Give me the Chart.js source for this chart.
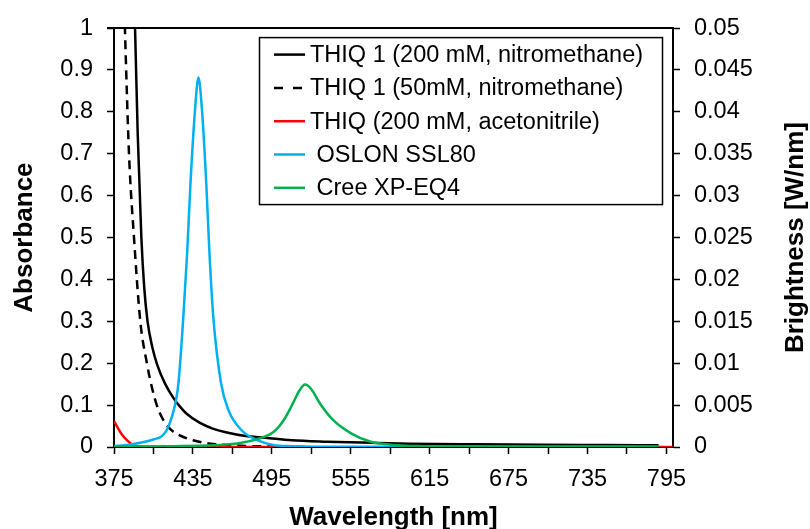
<!DOCTYPE html>
<html>
<head>
<meta charset="utf-8">
<script src="https://cdn.jsdelivr.net/npm/chart.js@4/dist/chart.umd.min.js"></script>
<style>
  html, body { margin: 0; padding: 0; background: #fff; }
  #wrap { width: 810px; height: 529px; }
</style>
</head>
<body>
<div id="wrap"><canvas id="c" width="810" height="529"></canvas></div>
<script>
// Absorbance spectra (left axis)
const thiq200Wl  = [389.5, 391, 393, 395.8, 398, 400.5, 404, 408, 414, 420, 425, 430, 440, 450, 460, 475, 490, 510, 537, 570, 600, 650, 700, 750, 789];
const thiq200Abs = [1.15, 1.0, 0.75, 0.5, 0.38, 0.3, 0.24, 0.195, 0.15, 0.118, 0.097, 0.08, 0.058, 0.044, 0.035, 0.026, 0.022, 0.016, 0.0126, 0.01, 0.008, 0.0065, 0.0055, 0.0048, 0.0042];

const thiq50Wl  = [382, 383.3, 386.4, 390.2, 395, 400, 404, 407.5, 410, 413, 418, 425, 435, 448, 460, 480, 500, 520];
const thiq50Abs = [1.15, 1.0, 0.7, 0.5, 0.3, 0.2, 0.14, 0.1, 0.08, 0.062, 0.042, 0.028, 0.016, 0.008, 0.005, 0.002, 0.001, 0];

const thiqMeCNWl  = [375, 378, 381, 385, 389, 395, 400, 500, 600, 700, 800];
const thiqMeCNAbs = [0.062, 0.045, 0.03, 0.016, 0.006, 0.001, 0, 0, 0, 0, 0];

// LED emission spectra (right axis, W/nm)
const oslonWl = [375, 385, 395, 405, 411, 415, 419, 422, 424, 427.7, 430.7, 433, 436.5, 439.2, 442, 445.3, 447.5, 450.5, 456.4, 462, 472, 483.5, 496, 510, 550, 650, 785];
const oslonBr = [0.0001, 0.00025, 0.0005, 0.0009, 0.00125, 0.002, 0.0036, 0.0055, 0.0076, 0.0155, 0.0234, 0.031, 0.04, 0.0441, 0.04, 0.031, 0.0234, 0.0155, 0.0076, 0.0044, 0.002, 0.00085, 0.00025, 0.0001, 0, 0, 0];

const creeWl = [375, 420, 450, 470, 486, 496, 504, 511, 516, 520.3, 525, 531.6, 541.7, 555.6, 569.6, 587, 610, 650, 789];
const creeBr = [0.00005, 0.0001, 0.0002, 0.00045, 0.00105, 0.00175, 0.0032, 0.0052, 0.00675, 0.00745, 0.0069, 0.0052, 0.0032, 0.0016, 0.00065, 0.00025, 0.0001, 0.00005, 0.00005];

const seriesLabels = [
  'THIQ 1 (200 mM, nitromethane)',
  'THIQ 1 (50mM, nitromethane)',
  'THIQ (200 mM, acetonitrile)',
  ' OSLON SSL80',
  ' Cree XP-EQ4'
];

const xMajorTicks = [375, 435, 495, 555, 615, 675, 735, 795];

const pts = (xs, ys) => xs.map((x, i) => ({ x: x, y: ys[i] }));

const FONT = 'Liberation Sans, Arial, sans-serif';
const TICK_FONT = { family: FONT, size: 23.5 };
const TITLE_FONT = { family: FONT, size: 26, weight: 'bold', lineHeight: 0.85 };

const lineBase = {
  pointRadius: 0,
  borderWidth: 2.5,
  fill: false,
  cubicInterpolationMode: 'monotone'
};

// Boxed legend inside the plot, plus the top frame and right-hand title
const decorations = {
  id: 'decorations',
  afterDraw(chart) {
    const { ctx, chartArea } = chart;
    ctx.save();
    // top frame line
    ctx.strokeStyle = '#000';
    ctx.lineWidth = 2;
    ctx.beginPath();
    ctx.moveTo(chartArea.left - 7, chartArea.top);
    ctx.lineTo(chartArea.right, chartArea.top);
    ctx.stroke();

    // right axis title, reading bottom to top
    ctx.fillStyle = '#000';
    ctx.font = 'bold 26px ' + FONT;
    ctx.textAlign = 'center';
    ctx.textBaseline = 'middle';
    ctx.translate(796, (chartArea.top + chartArea.bottom) / 2);
    ctx.rotate(-Math.PI / 2);
    ctx.fillText('Brightness [W/nm]', 0, 0);
    ctx.restore();

    // legend
    const bx = chartArea.left + 145.5, by = chartArea.top + 9.5;
    const bw = 403, bh = 167;
    ctx.save();
    ctx.fillStyle = '#fff';
    ctx.fillRect(bx, by, bw, bh);
    ctx.strokeStyle = '#000';
    ctx.lineWidth = 1.5;
    ctx.strokeRect(bx, by, bw, bh);
    ctx.font = '23.5px ' + FONT;
    ctx.textBaseline = 'middle';
    ctx.textAlign = 'left';
    chart.data.datasets.forEach((ds, i) => {
      const cy = by + 17 + i * 33.3;
      const x0 = bx + 14.5, x1 = bx + 45.5;
      ctx.strokeStyle = ds.borderColor;
      ctx.lineWidth = 2.5;
      ctx.setLineDash(ds.borderDash ? [9, 10] : []);
      ctx.beginPath();
      ctx.moveTo(x0, cy);
      ctx.lineTo(x1, cy);
      ctx.stroke();
      ctx.setLineDash([]);
      ctx.fillStyle = '#000';
      ctx.fillText(ds.label, bx + 50.5, cy + 1);
    });
    ctx.restore();
  }
};

new Chart(document.getElementById('c'), {
  type: 'line',
  data: {
    datasets: [
      Object.assign({}, lineBase, { label: seriesLabels[0], data: pts(thiq200Wl, thiq200Abs), borderColor: '#000000', yAxisID: 'y', order: 4 }),
      Object.assign({}, lineBase, { label: seriesLabels[1], data: pts(thiq50Wl, thiq50Abs), borderColor: '#000000', borderDash: [9, 6], yAxisID: 'y', order: 3 }),
      Object.assign({}, lineBase, { label: seriesLabels[2], data: pts(thiqMeCNWl, thiqMeCNAbs), borderColor: '#FF0000', yAxisID: 'y', order: 2 }),
      Object.assign({}, lineBase, { label: seriesLabels[3], data: pts(oslonWl, oslonBr), borderColor: '#00B0F0', yAxisID: 'y2', order: 1 }),
      Object.assign({}, lineBase, { label: seriesLabels[4], data: pts(creeWl, creeBr), borderColor: '#00B050', yAxisID: 'y2', order: 0 })
    ]
  },
  options: {
    responsive: false,
    animation: false,
    events: [],
    layout: { padding: { top: 26, left: 0, right: 0, bottom: 0 } },
    plugins: { legend: { display: false }, tooltip: { enabled: false } },
    scales: {
      x: {
        type: 'linear',
        min: 375,
        max: 800,
        afterBuildTicks(scale) {
          const t = [];
          xMajorTicks.forEach(v => { t.push({ value: v }); if (v + 30 < 800) t.push({ value: v + 30 }); });
          scale.ticks = t;
        },
        afterFit(scale) { scale.height = 82; },
        ticks: {
          autoSkip: false,
          maxRotation: 0,
          color: '#000',
          font: TICK_FONT,
          padding: 11,
          callback: v => xMajorTicks.includes(v) ? String(v) : ''
        },
        grid: { drawOnChartArea: false, drawTicks: true, tickLength: 7, tickColor: '#000', tickWidth: 1.5 },
        border: { display: true, color: '#000', width: 2 },
        title: { display: true, text: 'Wavelength [nm]', color: '#000', font: TITLE_FONT, padding: { top: 0, bottom: 0 } }
      },
      y: {
        position: 'left',
        min: 0,
        max: 1,
        afterFit(scale) { scale.width = 114; },
        ticks: {
          stepSize: 0.1,
          color: '#000',
          font: TICK_FONT,
          padding: 14,
          callback: v => String(Math.round(v * 10) / 10)
        },
        grid: { drawOnChartArea: false, drawTicks: true, tickLength: 7, tickColor: '#000', tickWidth: 1.5 },
        border: { display: true, color: '#000', width: 2 },
        title: { display: true, text: 'Absorbance', color: '#000', font: TITLE_FONT, padding: { top: 14, bottom: 0 } }
      },
      y2: {
        position: 'right',
        min: 0,
        max: 0.05,
        afterFit(scale) { scale.width = 137; },
        ticks: {
          stepSize: 0.005,
          color: '#000',
          font: TICK_FONT,
          padding: 14,
          callback: v => String(Math.round(v * 1000) / 1000)
        },
        grid: { drawOnChartArea: false, drawTicks: true, tickLength: 7, tickColor: '#000', tickWidth: 1.5 },
        border: { display: true, color: '#000', width: 2 }
      }
    }
  },
  plugins: [decorations]
});
</script>
</body>
</html>
